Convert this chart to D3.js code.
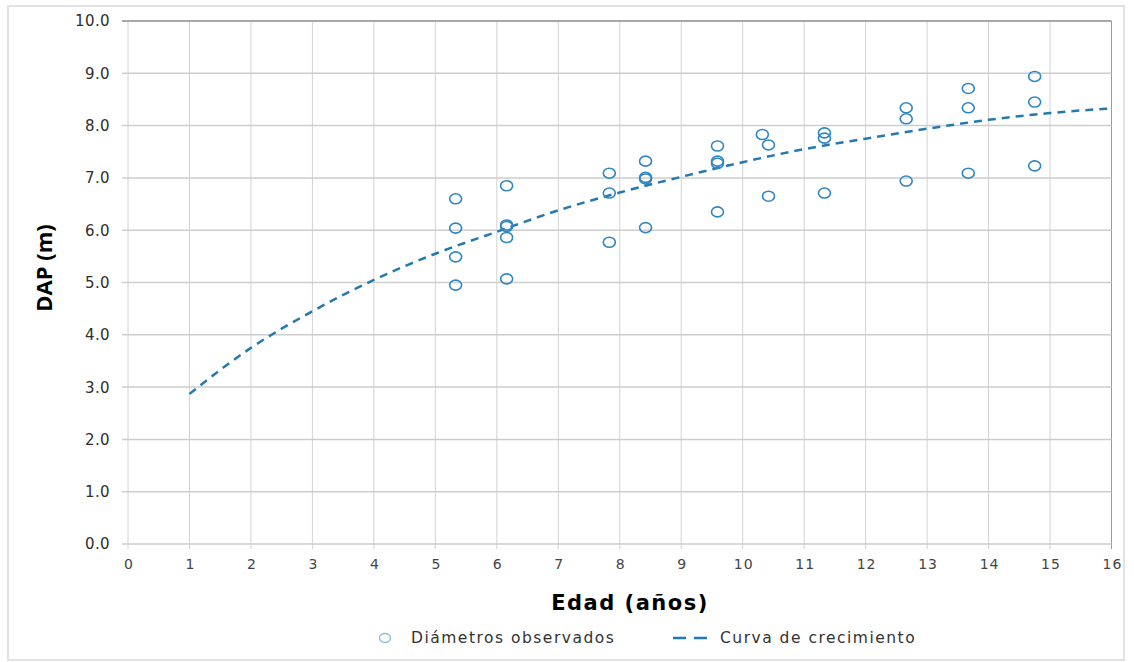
<!DOCTYPE html>
<html>
<head>
<meta charset="utf-8">
<script src="https://cdn.jsdelivr.net/npm/d3@7"></script>
<style>
  body { margin: 0; background: #fff; }
  svg { display: block; }
</style>
</head>
<body>
<div id="chart"></div>
<script>
var WIDTH = 1134
var HEIGHT = 662

// observed diameters (age, DAP)
var obsAge = [5.33, 5.33, 5.33, 5.33,
    6.16, 6.16, 6.16, 6.16, 6.16,
    7.83, 7.83, 7.83,
    8.42, 8.42, 8.42, 8.42,
    9.59, 9.59, 9.59, 9.59,
    10.32, 10.42, 10.42,
    11.33, 11.33, 11.33,
    12.66, 12.66, 12.66,
    13.67, 13.67, 13.67,
    14.75, 14.75, 14.75];
var obsDap = [6.60, 6.04, 5.49, 4.95,
    6.85, 6.10, 6.07, 5.86, 5.07,
    7.09, 6.71, 5.77,
    7.32, 7.01, 6.98, 6.05,
    7.61, 7.32, 7.28, 6.35,
    7.83, 7.63, 6.65,
    7.86, 7.76, 6.71,
    8.34, 8.13, 6.94,
    8.71, 8.34, 7.09,
    8.94, 8.45, 7.23];

// growth curve
var curveAge = [1, 2, 3, 4, 5, 6, 7, 8, 9, 10, 11, 12, 13, 14, 15, 16];
var curveDap = [2.87, 3.75, 4.45, 5.05, 5.55, 5.97, 6.38, 6.72, 7.02, 7.30, 7.55, 7.75, 7.94, 8.11, 8.24, 8.33];

var xTicks = d3.range(0, 17, 1);
var yTicks = d3.range(0, 10.5, 1);

var margin = { left: 128, right: 1134 - 1111.5, top: 21, bottom: 662 - 544 };

var svg = d3.select('#chart').append('svg')
    .attr('width', WIDTH)
    .attr('height', HEIGHT);

// outer frame
svg.append('rect')
    .attr('x', 8).attr('y', 6)
    .attr('width', 1116).attr('height', 654)
    .attr('fill', 'none')
    .attr('stroke', '#e2e2e2')
    .attr('stroke-width', 2);

let xScale = d3.scaleLinear().domain([0, 16]).range([margin.left, WIDTH - margin.right]);
let yScale = d3.scaleLinear().domain([0, 10]).range([HEIGHT - margin.bottom, margin.top]);

var g = svg.append('g');

// vertical grid
g.selectAll('.vgrid')
    .data(xTicks)
    .enter()
    .append('line')
    .attr('class', 'vgrid')
    .attr('x1', d => xScale(d)).attr('x2', d => xScale(d))
    .attr('y1', yScale(10)).attr('y2', yScale(0) + 5)
    .attr('stroke', d => d == 16 ? '#9a9a9a' : '#d2d2d2')
    .attr('stroke-width', 1);

// horizontal grid
g.selectAll('.hgrid')
    .data(yTicks)
    .enter()
    .append('line')
    .attr('class', 'hgrid')
    .attr('x1', xScale(0) - 6).attr('x2', xScale(16))
    .attr('y1', d => yScale(d)).attr('y2', d => yScale(d))
    .attr('stroke', d => d == 10 ? '#a8a8a8' : '#cdcdcd')
    .attr('stroke-width', d => d == 10 ? 2 : 1.5);

// y tick labels
g.selectAll('.ylab')
    .data(yTicks)
    .enter()
    .append('text')
    .attr('class', 'ylab')
    .attr('x', xScale(0) - 18)
    .attr('y', d => yScale(d))
    .attr('dy', '0.36em')
    .attr('text-anchor', 'end')
    .attr('font-family', 'DejaVu Sans')
    .attr('font-size', 15)
    .attr('letter-spacing', 0.4)
    .attr('fill', '#2e2e2e')
    .text(d => d.toFixed(1));

// x tick labels
g.selectAll('.xlab')
    .data(xTicks)
    .enter()
    .append('text')
    .attr('class', 'xlab')
    .attr('x', d => xScale(d) + 1)
    .attr('y', yScale(0) + 25)
    .attr('text-anchor', 'middle')
    .attr('font-family', 'DejaVu Sans')
    .attr('font-size', 14)
    .attr('letter-spacing', 1)
    .attr('fill', '#444')
    .text(d => d);

// axis titles
svg.append('text')
    .attr('transform', 'translate(52,' + 268 + ') rotate(-90)')
    .attr('text-anchor', 'middle')
    .attr('font-family', 'Open Sans')
    .attr('font-weight', 'bold')
    .attr('font-size', 22)
    .attr('fill', '#000')
    .text('DAP (m)');

svg.append('text')
    .attr('x', 630)
    .attr('y', 610)
    .attr('text-anchor', 'middle')
    .attr('font-family', 'DejaVu Sans')
    .attr('font-weight', 'bold')
    .attr('font-size', 21)
    .attr('letter-spacing', 1.5)
    .attr('fill', '#000')
    .text('Edad (años)');

// growth curve
var line = d3.line()
    .x((d, i) => xScale(curveAge[i]))
    .y(d => yScale(d))
    .curve(d3.curveMonotoneX);

g.append('path')
    .datum(curveDap)
    .attr('d', line)
    .attr('fill', 'none')
    .attr('stroke', '#2479b0')
    .attr('stroke-width', 2.5)
    .attr('stroke-dasharray', '8,6');

// observed points
g.selectAll('.obs')
    .data(obsDap)
    .enter()
    .append('ellipse')
    .attr('class', 'obs')
    .attr('cx', (d, i) => xScale(obsAge[i]))
    .attr('cy', d => yScale(d))
    .attr('rx', 6)
    .attr('ry', 5)
    .attr('fill', 'none')
    .attr('stroke', '#2f86c4')
    .attr('stroke-width', 1.6);

// legend
var leg = svg.append('g');
leg.append('ellipse')
    .attr('cx', 385).attr('cy', 638)
    .attr('rx', 5.5).attr('ry', 4.5)
    .attr('fill', 'none')
    .attr('stroke', '#8cc0e0')
    .attr('stroke-width', 1.4);
leg.append('text')
    .attr('x', 411).attr('y', 638)
    .attr('dy', '0.35em')
    .attr('font-family', 'DejaVu Sans')
    .attr('font-size', 15.5)
    .attr('letter-spacing', 1.5)
    .attr('fill', '#333')
    .text('Diámetros observados');
leg.append('line')
    .attr('x1', 673).attr('x2', 707)
    .attr('y1', 638).attr('y2', 638)
    .attr('stroke', '#1f78c0')
    .attr('stroke-width', 2.5)
    .attr('stroke-dasharray', '13,8');
leg.append('text')
    .attr('x', 720).attr('y', 638)
    .attr('dy', '0.35em')
    .attr('font-family', 'DejaVu Sans')
    .attr('font-size', 15.5)
    .attr('letter-spacing', 1.5)
    .attr('fill', '#333')
    .text('Curva de crecimiento');
</script>
</body>
</html>
